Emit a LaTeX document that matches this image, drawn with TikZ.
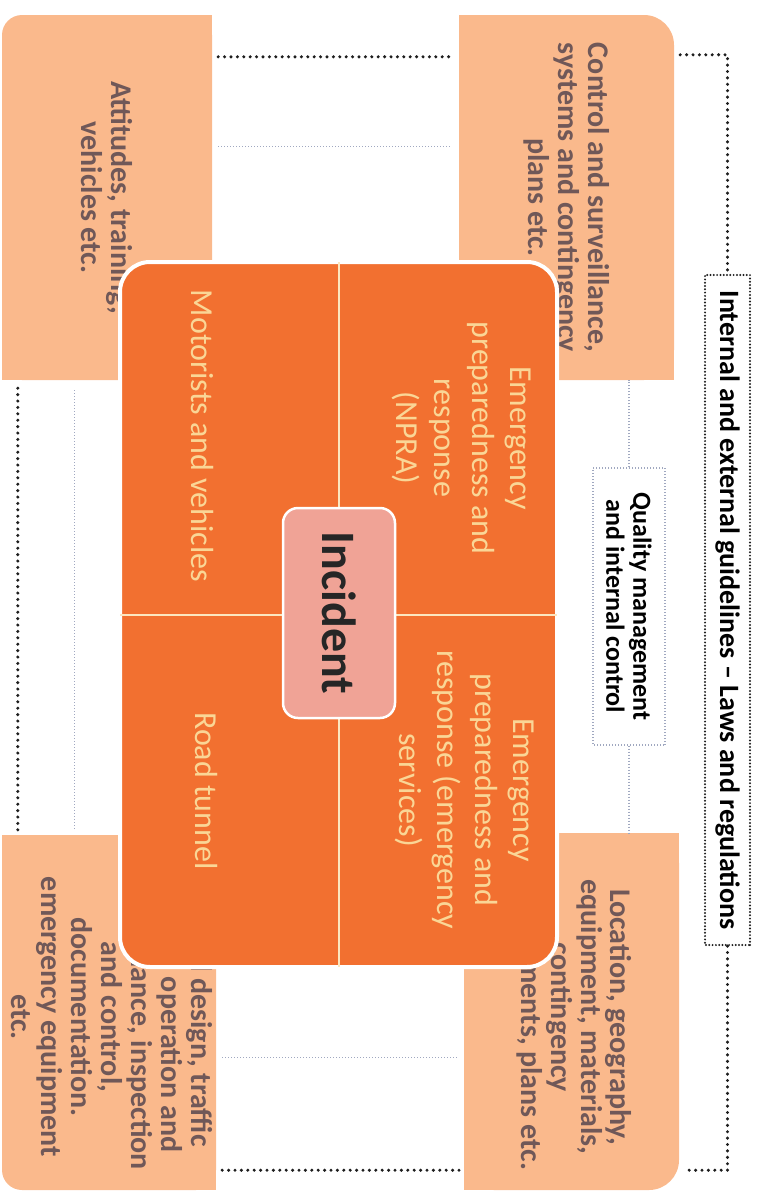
\documentclass[tikz,border=0pt]{standalone}
\usepackage{fontspec}
\setmainfont{Carlito}
\usepackage{xcolor}
\usetikzlibrary{positioning,calc}

\definecolor{peach}{RGB}{250,185,140}
\definecolor{corered}{RGB}{242,112,48}
\definecolor{incpink}{RGB}{240,163,150}
\definecolor{boxtext}{RGB}{112,88,88}
\definecolor{quadtext}{RGB}{250,214,150}
\definecolor{dotgrey}{RGB}{160,168,192}
\definecolor{dotdark}{RGB}{30,30,30}

\begin{document}
\begin{tikzpicture}[x=1pt, y=-1pt,
    outerbox/.style={fill=peach, inner sep=0pt},
    outertext/.style={rotate=-90, align=center, text=boxtext, font=\fontsize{30}{30}\selectfont\bfseries},
    quadtext/.style={rotate=-90, align=center, text=quadtext, font=\fontsize{32}{38}\selectfont},
    darkdots/.style={line width=3.4pt, dotdark, line cap=round, dash pattern=on 0pt off 6.4pt},
    faintdots/.style={line width=1.3pt, dotgrey, dash pattern=on 1pt off 2pt}]
    \useasboundingbox (0,0) rectangle (764,1192);

    % Outer boxes
    \node[outerbox, minimum width=210, minimum height=365, rounded corners=20pt] (att) at (107,197.5) {};
    \fill[peach] ([xshift=20pt]att.north west) rectangle (att.south east);
    \fill[peach] ([yshift=-20pt]att.north west) rectangle (att.south east);
    \node[outertext] (atttext) at (att.center) {Attitudes, training,\\vehicles etc.};

    \node[outerbox, minimum width=215, minimum height=365, rounded corners=30pt] (ctrl) at (566.5,197.5) {};
    \fill[peach] ([xshift=-30pt]ctrl.north east) rectangle (ctrl.south west);
    \fill[peach] ([yshift=-30pt]ctrl.north east) rectangle (ctrl.south west);
    \node[outertext] (ctrltext) at (ctrl.center) {Control and surveillance,\\systems and contingency\\plans etc.};

    \node[outerbox, minimum width=214, minimum height=355, rounded corners=20pt] (tun) at (109,1012.5) {};
    \fill[peach] ([xshift=20pt]tun.south west) rectangle (tun.north east);
    \fill[peach] ([yshift=20pt]tun.south west) rectangle (tun.north east);
    \node[outertext] (tuntext) at (112,1017) {Tunnel design, traffic\\control operation and\\maintenance, inspection\\and control,\\documentation.\\emergency equipment\\etc.};

    \node[outerbox, minimum width=215, minimum height=357, rounded corners=30pt] (loc) at (571.5,1011.5) {};
    \fill[peach] ([xshift=-30pt]loc.south east) rectangle (loc.north west);
    \fill[peach] ([yshift=30pt]loc.south east) rectangle (loc.north west);
    \node[outertext] (loctext) at (574,1017) {Location, geography,\\equipment, materials,\\contingency\\arrangements, plans etc.};

    % Guidelines and quality control
    \node[rotate=-90, draw=dotdark, line width=2.2pt, line cap=round, dash pattern=on 0pt off 3.3pt,
        minimum width=670, minimum height=45, font=\fontsize{28}{30}\selectfont\bfseries] (laws) at (727.5,610)
        {Internal and external guidelines – Laws and regulations};
    \node[rotate=-90, draw=dotgrey, line width=1.3pt, dash pattern=on 1pt off 2pt, align=center,
        minimum width=277, minimum height=72, font=\fontsize{26}{27}\selectfont\bfseries] (qual) at (629,606.5)
        {Quality management\\and internal control};

    % Dark dotted links
    \draw[darkdots] ([shift={(6pt,-42pt)}]att.north east) -- ([shift={(-8pt,-42pt)}]ctrl.north west);
    \draw[darkdots] ([shift={(6pt,-40pt)}]ctrl.north east) -| (laws.west);
    \draw[darkdots] (laws.east) |- ([shift={(5pt,20pt)}]loc.south east);
    \draw[darkdots] ([shift={(6pt,20pt)}]tun.south east) -- ([shift={(-4pt,20pt)}]loc.south west);
    \draw[darkdots] ([shift={(16pt,-8pt)}]att.south west) -- ([shift={(16pt,5pt)}]tun.north west);

    % Faint dotted links
    \draw[faintdots] ([shift={(6pt,-132pt)}]att.north east) -- ([shift={(-7pt,-132pt)}]ctrl.north west);
    \draw[faintdots] ([shift={(6pt,133pt)}]tun.south east) -- ([shift={(-7pt,133pt)}]loc.south west);
    \draw[faintdots] ([shift={(73pt,-10pt)}]att.south west) -- ([shift={(73pt,5pt)}]tun.north west);
    \draw[faintdots] (qual.west) -- (qual.west |- ctrl.south);
    \draw[faintdots] (qual.east) -- (qual.east |- loc.north);

    % Core with four quadrants
    \node[fill=corered, draw=white, line width=4pt, rounded corners=30pt,
        minimum width=437, minimum height=705] (core) at (338.5,614.5) {};
    \draw[line width=2pt, quadtext!60!white, shorten <=2pt, shorten >=2pt] (core.north) -- (core.south);
    \draw[line width=2pt, quadtext!60!white, shorten <=2pt, shorten >=2pt] (core.west) -- (core.east);
    \node[quadtext] (npra) at (462,438) {Emergency\\preparedness and\\response\\(NPRA)};
    \node[quadtext] (services) at (465,790) {Emergency\\preparedness and\\response (emergency\\services)};
    \node[quadtext] (motorists) at (202,436) {Motorists and vehicles};
    \node[quadtext] (roadtunnel) at (206,791) {Road tunnel};

    % Incident
    \node[rotate=-90, fill=incpink, draw=white, line width=2.5pt, rounded corners=15pt,
        minimum width=210, minimum height=112, text=black!85,
        font=\fontsize{48}{50}\selectfont\bfseries] (incident) at (339,613) {Incident};
\end{tikzpicture}
\end{document}
